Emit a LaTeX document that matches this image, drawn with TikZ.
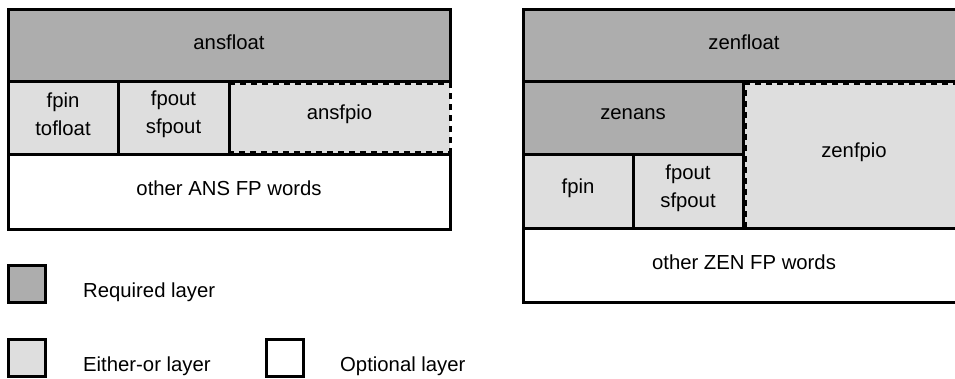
\documentclass[tikz,border=0pt]{standalone}
\usepackage{fontspec}
\setmainfont{Liberation Sans}
\definecolor{reqgray}{HTML}{ADADAD}
\definecolor{eogray}{HTML}{DEDEDE}
\begin{document}
\begin{tikzpicture}[x=1pt,y=-1pt,
  box/.style={draw=black, line width=3pt, inner sep=0pt, outer sep=0pt},
  req/.style={box, fill=reqgray},
  eo/.style={box, fill=eogray},
  opt/.style={box, fill=white},
  eofill/.style={fill=eogray, inner sep=0pt, outer sep=0pt},
  dsh/.style={draw=black, line width=3pt, dash pattern=on 6pt off 5pt},
  txt/.style={inner sep=0pt, align=center, font=\fontsize{20.3}{28}\selectfont},
  lbl/.style={inner sep=0pt, anchor=base west, font=\fontsize{20.3}{28}\selectfont}]
\useasboundingbox (0,0) rectangle (955,378);
\fill[white] (0,0) rectangle (955,378);
\clip (0,0) rectangle (955,378);
% left stack
\node[eofill, minimum width=221pt, minimum height=73pt] (ansfpio) at (339.5,117.5) {};
\draw[dsh] ([yshift=-2pt]ansfpio.north west) -- ([yshift=-2pt]ansfpio.north east)
  -- ([yshift=2pt]ansfpio.south east) -- ([yshift=2pt]ansfpio.south west);
\node[req, minimum width=442pt, minimum height=72pt] (ansfloat) at (229,45) {};
\node[eo, minimum width=110pt, minimum height=73pt] (fpinA) at (63,117.5) {};
\node[eo, minimum width=111pt, minimum height=73pt] (fpoutA) at (173.5,117.5) {};
\node[opt, minimum width=442pt, minimum height=75pt] (otherA) at (229,191.5) {};
\node[txt] (tansfpio) at ([yshift=3pt]ansfpio.center) {ansfpio};
\node[txt] (tansfloat) at ([yshift=3pt]ansfloat.center) {ansfloat};
\node[txt] (tfpinA) at ([yshift=3pt]fpinA.center) {fpin\\tofloat};
\node[txt] (tfpoutA) at ([yshift=3pt]fpoutA.center) {fpout\\sfpout};
\node[txt] (totherA) at ([yshift=3pt]otherA.center) {other ANS FP words};
% right stack
\node[eofill, minimum width=222pt, minimum height=147pt] (zenfpio) at (854,154.5) {};
\draw[dsh] ([xshift=2.5pt]zenfpio.south west) -- ([xshift=2.5pt,yshift=-2pt]zenfpio.north west)
  -- ([yshift=-2pt]zenfpio.north east);
\node[req, minimum width=442pt, minimum height=72pt] (zenfloat) at (744,45) {};
\node[req, minimum width=220pt, minimum height=73pt] (zenans) at (633,117.5) {};
\node[eo, minimum width=110pt, minimum height=74pt] (fpinB) at (578,191) {};
\node[eo, minimum width=110pt, minimum height=74pt] (fpoutB) at (688,191) {};
\node[opt, minimum width=442pt, minimum height=74pt] (otherB) at (744,265) {};
\node[txt] (tzenfpio) at ([yshift=2.5pt]zenfpio.center) {zenfpio};
\node[txt] (tzenfloat) at ([yshift=3pt]zenfloat.center) {zenfloat};
\node[txt] (tzenans) at ([yshift=3pt]zenans.center) {zenans};
\node[txt] (tfpinB) at ([yshift=3pt]fpinB.center) {fpin};
\node[txt] (tfpoutB) at ([yshift=3pt]fpoutB.center) {fpout\\sfpout};
\node[txt] (totherB) at ([yshift=3pt]otherB.center) {other ZEN FP words};
% legend
\node[req, minimum width=37pt, minimum height=37pt] (lreq) at (26.5,283.5) {};
\node[eo, minimum width=37pt, minimum height=37pt] (leo) at (26.5,357.5) {};
\node[opt, minimum width=37pt, minimum height=37pt] (lopt) at (284.5,357.5) {};
\node[lbl] (treq) at (83,297) {Required layer};
\node[lbl] (teo) at (83,371.5) {Either-or layer};
\node[lbl] (topt) at (340,371.5) {Optional layer};
\end{tikzpicture}
\end{document}
